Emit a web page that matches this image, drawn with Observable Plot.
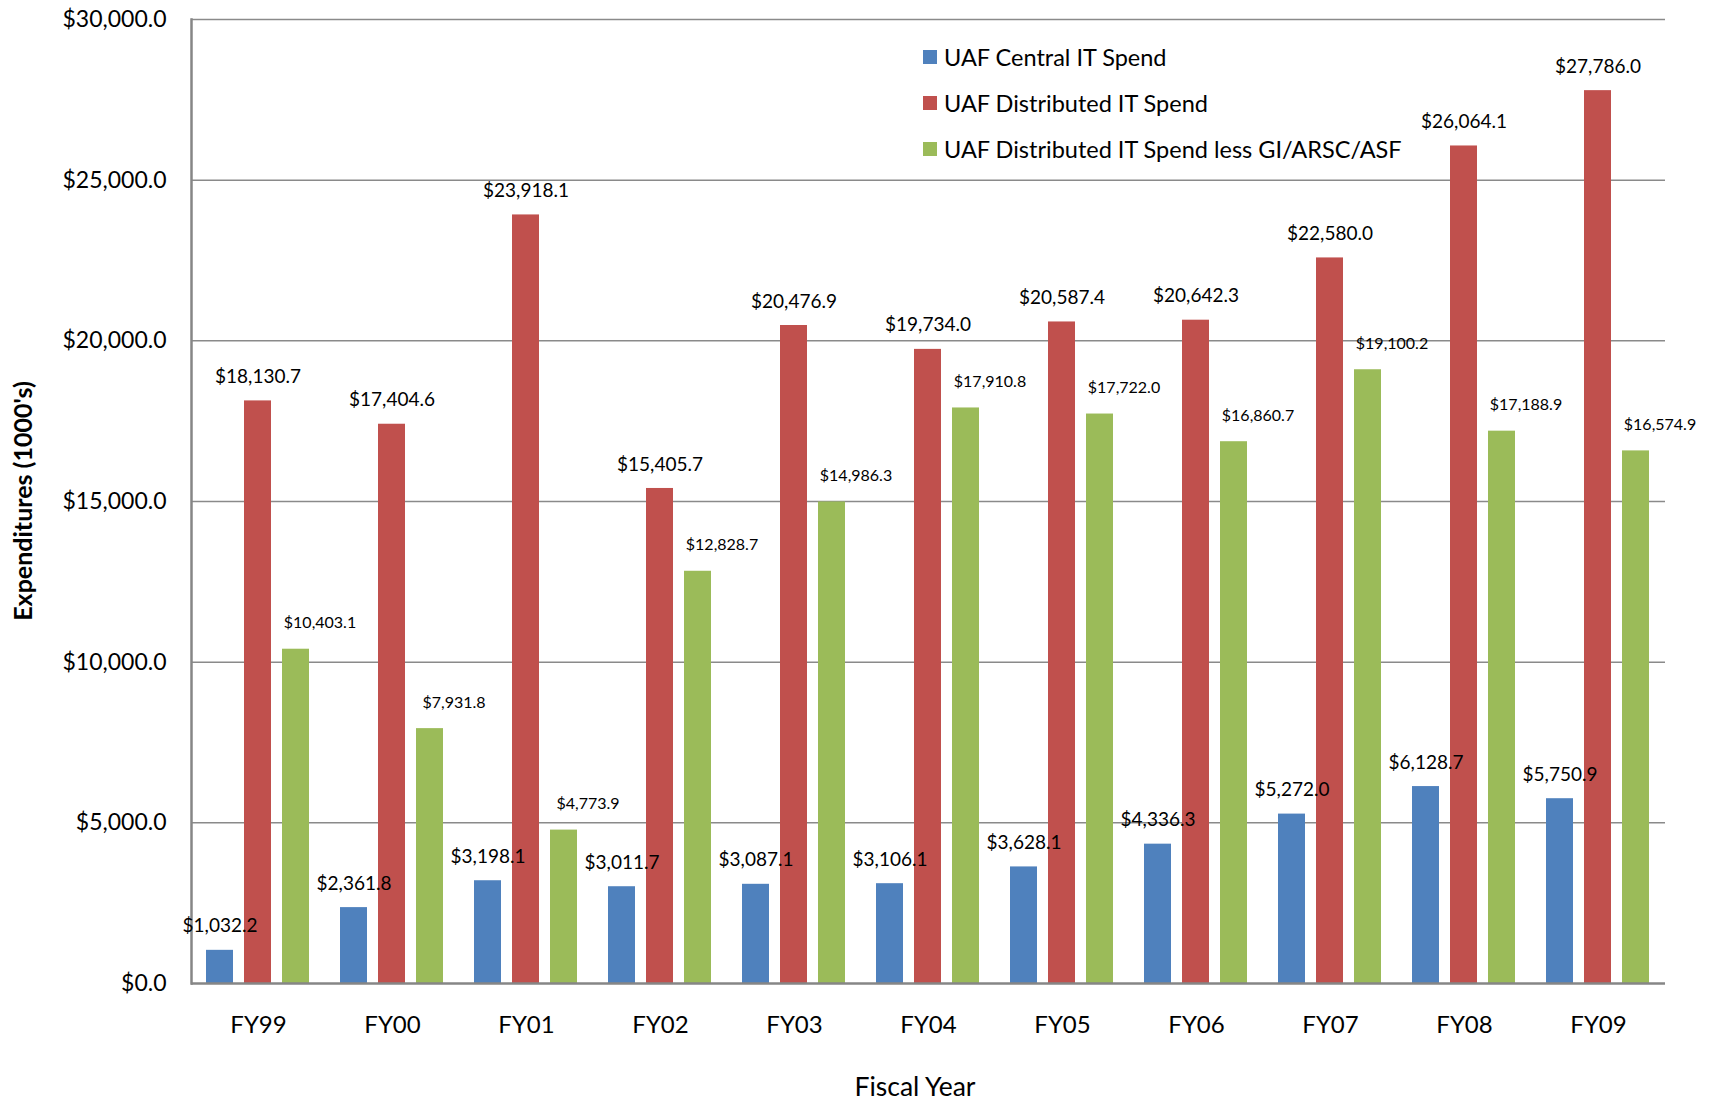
<!DOCTYPE html>
<html><head><meta charset="utf-8">
<script src="https://cdn.jsdelivr.net/npm/d3@7"></script>
<script src="https://cdn.jsdelivr.net/npm/@observablehq/plot@0.6"></script>
<style>
body{margin:0;background:#fff;font-family:Lato, "Open Sans", sans-serif;color:#000;}
#wrap{position:relative;width:1712px;height:1102px;}
#ytitle{position:absolute;left:22px;top:501px;transform:translate(-50%,-50%) rotate(-90deg);font-weight:bold;font-size:25px;white-space:nowrap;}
#xtitle{position:absolute;left:915px;top:1086px;transform:translate(-50%,-50%);font-size:26.5px;white-space:nowrap;}
#legend{position:absolute;left:923px;top:34px;}
.item{display:flex;align-items:center;height:46px;font-size:23.5px;white-space:nowrap;}
.sw{width:14px;height:14px;margin-right:7px;flex:none;}
</style>
</head><body>
<div id="wrap"></div>
<script>
const years = ["FY99","FY00","FY01","FY02","FY03","FY04","FY05","FY06","FY07","FY08","FY09"];
const seriesNames = ["UAF Central IT Spend","UAF Distributed IT Spend","UAF Distributed IT Spend less GI/ARSC/ASF"];
const central = [1032.2, 2361.8, 3198.1, 3011.7, 3087.1, 3106.1, 3628.1, 4336.3, 5272.0, 6128.7, 5750.9];
const distributed = [18130.7, 17404.6, 23918.1, 15405.7, 20476.9, 19734.0, 20587.4, 20642.3, 22580.0, 26064.1, 27786.0];
const distributedLess = [10403.1, 7931.8, 4773.9, 12828.7, 14986.3, 17910.8, 17722.0, 16860.7, 19100.2, 17188.9, 16574.9];
const yTicks = [0, 5000, 10000, 15000, 20000, 25000, 30000];
const colors = ["#4F81BD", "#C0504D", "#9BBB59"];

const seriesValues = [central, distributed, distributedLess];
const rows = years.flatMap((fy, i) => seriesNames.map((s, j) => ({fy, series: s, value: seriesValues[j][i]})));
const money = d => "$" + d3.format(",.1f")(d);

const chart = Plot.plot({
  width: 1712, height: 1102,
  marginLeft: 189, marginRight: 45, marginTop: 19, marginBottom: 119,
  style: {fontFamily: "Lato, 'Open Sans', sans-serif", color: "#000", background: "#fff"},
  fx: {domain: years, padding: 0, label: null},
  x: {domain: seriesNames, paddingInner: 0.2765, paddingOuter: 0.374, axis: null},
  y: {domain: [0, 30000], axis: null},
  color: {domain: seriesNames, range: colors},
  marks: [
    Plot.ruleY(yTicks.slice(1), {stroke: "#8a8a8a", strokeWidth: 1.5}),
    Plot.barY(rows, {fx: "fy", x: "series", y: "value", fill: "series"}),
    Plot.ruleY([0], {stroke: "#868686", strokeWidth: 2.5}),
    Plot.frame({anchor: "left", facetAnchor: "left", stroke: "#868686", strokeWidth: 2.5}),
    Plot.text(rows.filter(r => r.series !== seriesNames[2]), {fx: "fy", x: "series", y: "value", text: d => money(d.value), dy: -24, fontSize: 19, fill: "#000"}),
    Plot.text(rows.filter(r => r.series === seriesNames[2]), {fx: "fy", x: "series", y: "value", text: d => money(d.value), dy: -26, dx: 24, fontSize: 16, fill: "#000"}),
    Plot.axisY({ticks: yTicks, tickSize: 0, tickPadding: 25, tickFormat: money, fontSize: 23, label: null}),
    Plot.axisFx({anchor: "bottom", tickSize: 0, tickPadding: 32, fontSize: 24, label: null})
  ]
});
const wrap = document.getElementById("wrap");
wrap.appendChild(chart);

const yt = document.createElement("div"); yt.id = "ytitle"; yt.textContent = "Expenditures (1000's)"; wrap.appendChild(yt);
const xt = document.createElement("div"); xt.id = "xtitle"; xt.textContent = "Fiscal Year"; wrap.appendChild(xt);
const lg = document.createElement("div"); lg.id = "legend";
seriesNames.forEach((s, i) => {
  const it = document.createElement("div"); it.className = "item";
  const sw = document.createElement("span"); sw.className = "sw"; sw.style.background = colors[i];
  const tx = document.createElement("span"); tx.textContent = s;
  it.appendChild(sw); it.appendChild(tx); lg.appendChild(it);
});
wrap.appendChild(lg);
</script>
</body></html>
